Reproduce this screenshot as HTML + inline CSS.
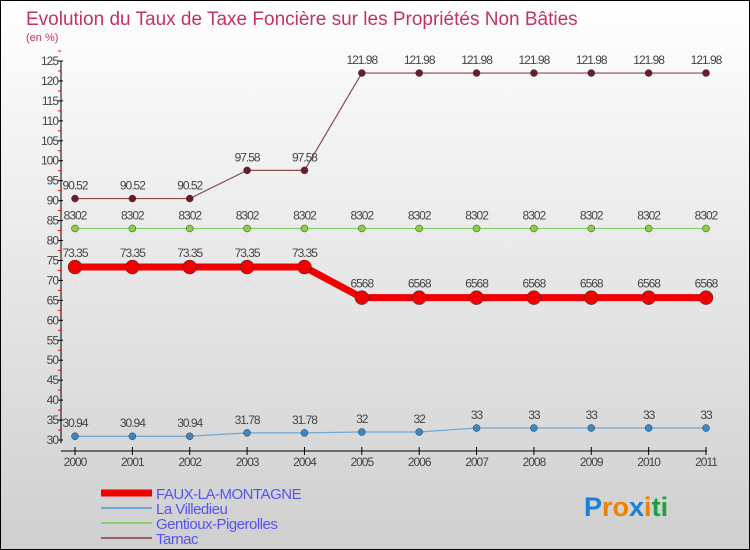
<!DOCTYPE html>
<html><head><meta charset="utf-8">
<style>
body{margin:0}
#wrap{position:relative;width:748px;height:548px;border:1px solid #000;background:linear-gradient(#fff,#cfcfcf);font-family:"Liberation Sans",sans-serif;overflow:hidden}
</style></head><body>
<div id="wrap">
<svg id="chart" width="748" height="548"></svg>
</div>
<script>
const years=["2000","2001","2002","2003","2004","2005","2006","2007","2008","2009","2010","2011"];
const faux=[73.35,73.35,73.35,73.35,73.35,65.68,65.68,65.68,65.68,65.68,65.68,65.68];
const fauxLabels=["73.35","73.35","73.35","73.35","73.35","6568","6568","6568","6568","6568","6568","6568"];
const villedieu=[30.94,30.94,30.94,31.78,31.78,32,32,33,33,33,33,33];
const villedieuLabels=["30.94","30.94","30.94","31.78","31.78","32","32","33","33","33","33","33"];
const gentioux=[83.02,83.02,83.02,83.02,83.02,83.02,83.02,83.02,83.02,83.02,83.02,83.02];
const gentiouxLabels=["8302","8302","8302","8302","8302","8302","8302","8302","8302","8302","8302","8302"];
const tarnac=[90.52,90.52,90.52,97.58,97.58,121.98,121.98,121.98,121.98,121.98,121.98,121.98];
const tarnacLabels=["90.52","90.52","90.52","97.58","97.58","121.98","121.98","121.98","121.98","121.98","121.98","121.98"];
const yTicks=[30,35,40,45,50,55,60,65,70,75,80,85,90,95,100,105,110,115,120,125];

const svg=document.getElementById('chart');
const NS='http://www.w3.org/2000/svg';
function el(t,a,p){const e=document.createElementNS(NS,t);for(const k in a)e.setAttribute(k,a[k]);(p||svg).appendChild(e);return e;}
const x=i=>74+i*(705-74)/(years.length-1);
const y=v=>439-(v-30)*(379/95);

let t=el('text',{x:25,y:24,'font-size':19,fill:'#c2335f'});t.textContent='Evolution du Taux de Taxe Foncière sur les Propriétés Non Bâties';

t=el('text',{x:25,y:40,'font-size':11,fill:'#c2335f'});t.textContent='(en %)';


const ax=el('g',{});
el('line',{x1:60,y1:60,x2:60,y2:442,stroke:'#000'},ax);
yTicks.forEach(v=>{el('line',{x1:57,x2:62,y1:y(v),y2:y(v),stroke:'#000'},ax);
 el('line',{x1:57,x2:60,y1:y(v+2.5),y2:y(v+2.5),stroke:'#f00'},ax);
 const tx=el('text',{x:57,y:y(v)+4,'font-size':12,'text-anchor':'end',fill:'#444','letter-spacing':'-1'},ax);tx.textContent=v;
 });
const xa=el('g',{});
el('line',{x1:60,y1:450,x2:706,y2:450,stroke:'#000'},xa);
years.forEach((yr,i)=>{el('line',{x1:x(i),x2:x(i),y1:446,y2:454,stroke:'#000'},xa);
 const tx=el('text',{x:x(i),y:465,'font-size':12,'text-anchor':'middle',fill:'#444','letter-spacing':'-1'},xa);tx.textContent=yr;
 });

function series(name,vals,labels,color,dot,w,r,ly){
 const g=el('g',{});
 el('polyline',{points:vals.map((v,i)=>x(i)+','+y(v)).join(' '),fill:'none',stroke:color,'stroke-width':w},g);
 vals.forEach((v,i)=>{const c=el('circle',{cx:x(i),cy:y(v),r:r,fill:dot,stroke:'#333','stroke-width':0.5},g);
  
  const tx=el('text',{x:x(i),y:y(v)-ly,'font-size':12,'text-anchor':'middle',fill:'#444','letter-spacing':'-1'},g);tx.textContent=labels[i];
  });
}
series('tarnac',tarnac,tarnacLabels,'#8b4a4a','#6b1b2b',1.2,3.5,9);
series('gentioux',gentioux,gentiouxLabels,'#88d070','#8ad040',1.2,3.5,9);
series('villedieu',villedieu,villedieuLabels,'#6fa8d6','#3a88c8',1.2,3.5,9);
series('faux',faux,fauxLabels,'#f00000','#f00000',7,7,10);

const leg=[['FAUX-LA-MONTAGNE','#f00000',7],['La Villedieu','#6fa8d6',2],['Gentioux-Pigerolles','#88d070',2],['Tarnac','#9a6060',2]];
leg.forEach((l,i)=>{const g=el('g',{});
 const yy=492+i*15;el('line',{x1:100,x2:151,y1:yy,y2:yy,stroke:l[1],'stroke-width':l[2]},g);
 const tx=el('text',{x:155,y:yy+6,'font-size':15,fill:'#5555ee','letter-spacing':'-0.5'},g);tx.textContent=l[0];});

const logo=el('text',{x:583,y:515,'font-size':27,'font-weight':'bold'});
[['P','#1a7fd6'],['ro','#f08000'],['x','#1a7fd6'],['i','#f08000'],['t','#20a040'],['i','#20a040']].forEach(p=>{const s=el('tspan',{fill:p[1]},logo);s.textContent=p[0];});
</script>
</body></html>
